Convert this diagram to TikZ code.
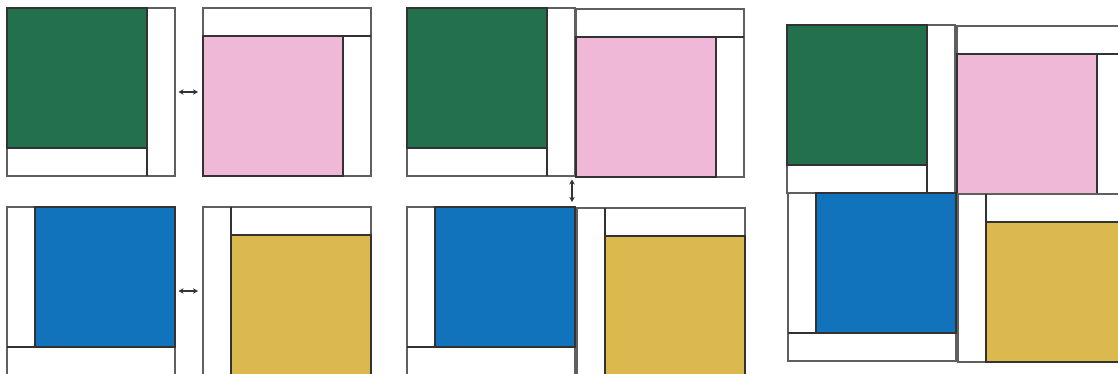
\documentclass[tikz,border=0pt]{standalone}
\usepackage{xcolor}
\usepackage{tikz}
\usetikzlibrary{arrows.meta}

\definecolor{qgreen}{RGB}{35,112,76}
\definecolor{qpink}{RGB}{238,184,214}
\definecolor{qblue}{RGB}{16,115,188}
\definecolor{qyellow}{RGB}{219,185,79}
\definecolor{framegray}{RGB}{95,95,95}
\definecolor{seamgray}{RGB}{50,50,50}

\tikzset{
  frame/.style={draw=framegray, fill=white, line width=1.2pt, minimum size=168pt, inner sep=0pt, outer sep=0pt},
  patch/.style={draw=seamgray, line width=1.2pt, minimum size=140pt, inner sep=0pt, outer sep=0pt},
  seam/.style={draw=seamgray, line width=1.2pt},
  swap/.style={{Stealth[length=5pt,width=5.5pt]}-{Stealth[length=5pt,width=5.5pt]}, line width=1.1pt, black!80, shorten <=3.5pt, shorten >=5pt}
}

\begin{document}
\begin{tikzpicture}[x=1pt,y=-1pt]
    \useasboundingbox[fill=white] (0,0) rectangle (1118,374);

    % first panel: pairs swapped side by side
    \node[frame] (g1) at (91,92) {};
    \node[patch, fill=qgreen, anchor=north west] (g1c) at (g1.north west) {};
    \draw[seam] (g1c.south east) -- (g1c.east |- g1.south);

    \node[frame] (p1) at (287,92) {};
    \node[patch, fill=qpink, anchor=south west] (p1c) at (p1.south west) {};
    \draw[seam] (p1c.north east) -- (p1c.north -| p1.east);

    \node[frame] (b1) at (91,291) {};
    \node[patch, fill=qblue, anchor=north east] (b1c) at (b1.north east) {};
    \draw[seam] (b1c.south west) -- (b1c.south -| b1.west);

    \node[frame] (y1) at (287,291) {};
    \node[patch, fill=qyellow, anchor=south east] (y1c) at (y1.south east) {};
    \draw[seam] (y1c.north west) -- (y1c.west |- y1.north);

    \draw[swap] (g1.east) -- (p1.west);
    \draw[swap] (b1.east) -- (y1.west);

    % second panel: rows joined, swapped top to bottom
    \node[frame] (g2) at (491,92) {};
    \node[patch, fill=qgreen, anchor=north west] (g2c) at (g2.north west) {};
    \draw[seam] (g2c.south east) -- (g2c.east |- g2.south);

    \node[frame] (p2) at (660,93) {};
    \node[patch, fill=qpink, anchor=south west] (p2c) at (p2.south west) {};
    \draw[seam] (p2c.north east) -- (p2c.north -| p2.east);

    \node[frame] (b2) at (491,291) {};
    \node[patch, fill=qblue, anchor=north east] (b2c) at (b2.north east) {};
    \draw[seam] (b2c.south west) -- (b2c.south -| b2.west);

    \node[frame] (y2) at (661,292) {};
    \node[patch, fill=qyellow, anchor=south east] (y2c) at (y2.south east) {};
    \draw[seam] (y2c.north west) -- (y2c.west |- y2.north);

    \draw[swap] ([xshift=-3pt]g2.south east) -- ([xshift=-3pt]b2.north east);

    % third panel: the four blocks sewn together
    \node[frame] (g3) at (871,109) {};
    \node[patch, fill=qgreen, anchor=north west] (g3c) at (g3.north west) {};
    \draw[seam] (g3c.south east) -- (g3c.east |- g3.south);

    \node[frame] (p3) at (1041,110) {};
    \node[patch, fill=qpink, anchor=south west] (p3c) at (p3.south west) {};
    \draw[seam] (p3c.north east) -- (p3c.north -| p3.east);

    \node[frame] (b3) at (872,277) {};
    \node[patch, fill=qblue, anchor=north east] (b3c) at (b3.north east) {};
    \draw[seam] (b3c.south west) -- (b3c.south -| b3.west);

    \node[frame] (y3) at (1042,278) {};
    \node[patch, fill=qyellow, anchor=south east] (y3c) at (y3.south east) {};
    \draw[seam] (y3c.north west) -- (y3c.west |- y3.north);
\end{tikzpicture}
\end{document}
